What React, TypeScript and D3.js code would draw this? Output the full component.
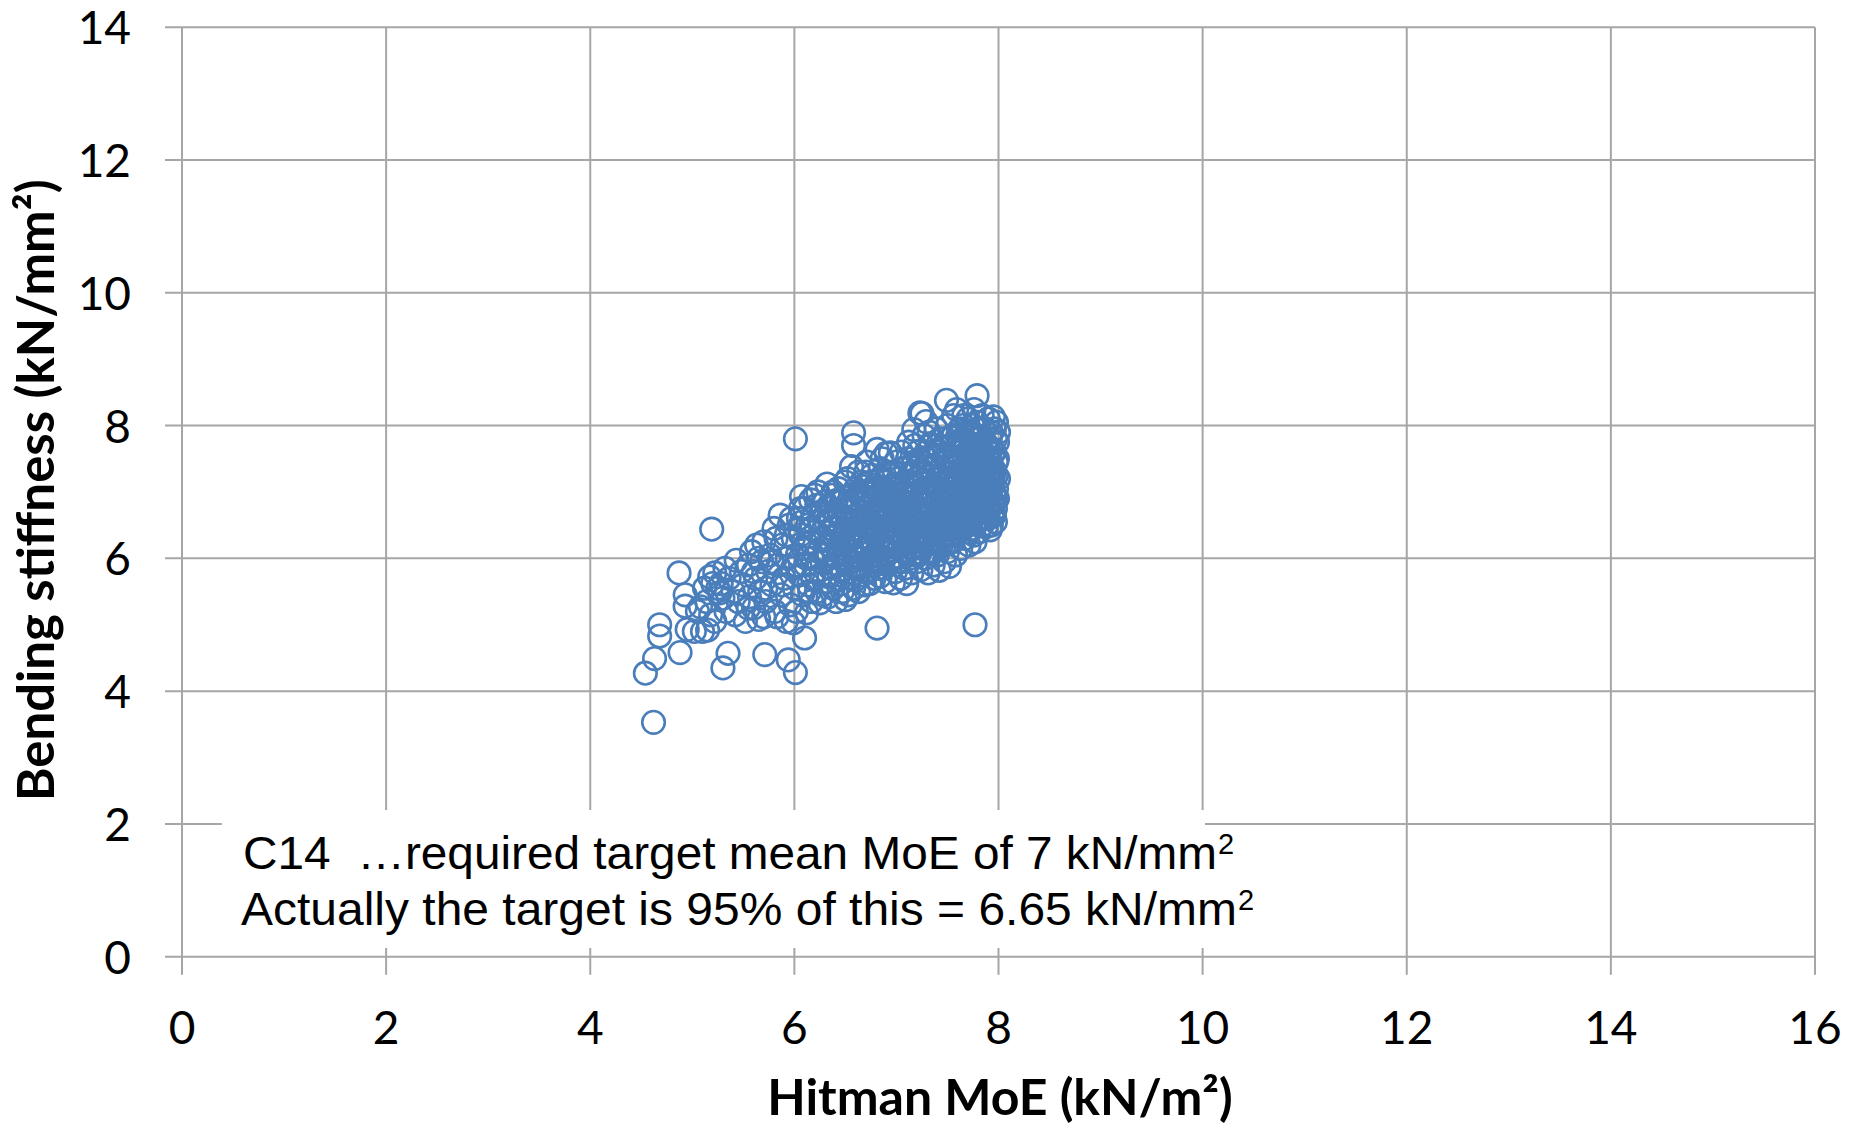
import { useEffect, useRef } from "react";
import * as d3 from "d3";

// Axis ticks
const xTicks = [0, 2, 4, 6, 8, 10, 12, 14, 16];
const yTicks = [0, 2, 4, 6, 8, 10, 12, 14];

// Isolated points: [Hitman MoE, bending stiffness]
const sparsePoints: [number, number][] = [
  [4.62, 3.53], [4.54, 4.27], [4.63, 4.49], [4.68, 4.83], [4.68, 5.0], [4.87, 5.78],
  [4.93, 5.45], [4.93, 5.28], [4.88, 4.58], [4.95, 4.93], [5.02, 4.9], [5.1, 4.9],
  [5.15, 4.92], [5.08, 5.27], [5.17, 5.72], [5.19, 6.44], [5.3, 4.35], [5.35, 4.57],
  [5.71, 4.55], [5.94, 4.47], [6.01, 4.28], [5.99, 5.03], [6.1, 4.8], [6.01, 7.8],
  [6.81, 4.95], [7.77, 5.0], [6.58, 7.89], [6.58, 7.7], [7.25, 8.18], [7.49, 8.38],
  [7.79, 8.45],
];

// Lower part of the cloud (x 5.0 - 6.0)
const lowerCloud: [number, number][] = [
  [5.12, 5.55], [5.2, 5.62], [5.14, 5.35], [5.05, 5.2], [5.22, 5.78], [5.27, 5.48],
  [5.32, 5.85], [5.18, 5.15], [5.22, 5.05], [5.25, 5.55], [5.28, 5.62], [5.3, 5.4],
  [5.33, 5.2], [5.36, 5.7], [5.4, 5.5], [5.43, 5.97], [5.42, 5.15], [5.45, 5.35],
  [5.48, 5.8], [5.5, 5.6], [5.52, 5.05], [5.55, 5.9], [5.56, 5.42], [5.58, 6.1],
  [5.6, 5.25], [5.62, 5.7], [5.63, 6.2], [5.65, 5.08], [5.66, 5.5], [5.68, 5.95],
  [5.7, 5.12], [5.7, 6.25], [5.72, 5.35], [5.74, 5.8], [5.76, 6.05], [5.78, 5.6],
  [5.8, 6.45], [5.81, 5.2], [5.83, 5.12], [5.84, 5.9], [5.86, 6.65], [5.87, 5.45],
  [5.88, 6.2], [5.9, 5.7], [5.92, 5.05], [5.93, 6.0], [5.95, 6.5], [5.96, 5.3],
  [5.98, 5.85], [5.99, 6.3], [6.0, 5.55], [5.55, 5.25], [5.6, 5.8], [5.65, 6.0],
  [5.72, 5.55], [5.78, 5.95], [5.82, 6.3], [5.88, 5.6], [5.92, 6.35], [5.97, 6.6],
];

// Middle of the cloud (x 6.0 - 7.0)
const middleCloud: [number, number][] = [
  [6.02, 5.2], [6.03, 6.05], [6.04, 6.6], [6.05, 5.75], [6.06, 6.35], [6.07, 6.93],
  [6.08, 5.45], [6.09, 6.15], [6.1, 6.75], [6.11, 5.9], [6.12, 5.18], [6.13, 6.5],
  [6.14, 5.6], [6.15, 6.25], [6.16, 6.88], [6.17, 5.35], [6.18, 6.0], [6.19, 6.62],
  [6.2, 5.8], [6.21, 6.4], [6.22, 5.5], [6.23, 7.0], [6.24, 6.1], [6.25, 5.33],
  [6.26, 6.7], [6.27, 5.95], [6.28, 6.3], [6.29, 5.65], [6.3, 6.85], [6.31, 6.55],
  [6.32, 7.12], [6.33, 5.42], [6.34, 6.2], [6.35, 5.85], [6.36, 6.45], [6.37, 6.95],
  [6.38, 5.55], [6.39, 6.05], [6.4, 6.7], [6.41, 5.35], [6.42, 6.35], [6.43, 7.05],
  [6.44, 5.75], [6.45, 6.15], [6.46, 6.85], [6.47, 5.5], [6.48, 6.55], [6.49, 6.0],
  [6.5, 7.15], [6.5, 5.38], [6.05, 6.45], [6.15, 5.5], [6.25, 6.55], [6.35, 6.65],
  [6.45, 6.4], [6.12, 6.22], [6.22, 6.8], [6.32, 5.98], [6.42, 5.9], [6.28, 5.45],
  [6.38, 7.0], [6.46, 5.62], [6.18, 5.7], [6.08, 6.55], [6.36, 6.25], [6.02, 5.9],
  [6.06, 6.75], [6.12, 6.0], [6.17, 6.45], [6.2, 6.95], [6.26, 5.75], [6.3, 6.05],
  [6.51, 5.9], [6.52, 6.6], [6.52, 7.2], [6.53, 5.45], [6.54, 6.3], [6.55, 6.95],
  [6.55, 5.7], [6.56, 7.38], [6.57, 6.1], [6.58, 6.75], [6.58, 5.55], [6.59, 6.45],
  [6.6, 7.05], [6.61, 5.85], [6.61, 6.25], [6.62, 6.85], [6.63, 5.5], [6.63, 7.3],
  [6.64, 6.55], [6.65, 6.0], [6.66, 6.7], [6.66, 7.15], [6.67, 5.75], [6.68, 6.4],
  [6.69, 6.9], [6.69, 5.6], [6.7, 6.15], [6.71, 7.45], [6.72, 6.6], [6.72, 5.82],
  [6.73, 7.0], [6.74, 6.3], [6.75, 5.95], [6.75, 6.8], [6.76, 7.25], [6.77, 6.5],
  [6.78, 5.7], [6.78, 6.05], [6.79, 7.1], [6.8, 6.65], [6.81, 7.64], [6.81, 6.35],
  [6.82, 5.85], [6.83, 6.95], [6.84, 5.73], [6.84, 7.35], [6.85, 6.2], [6.86, 6.75],
  [6.87, 6.0], [6.88, 7.15], [6.88, 6.45], [6.89, 5.65], [6.9, 6.9], [6.9, 7.58],
  [6.91, 6.3], [6.92, 5.9], [6.93, 6.6], [6.94, 7.25], [6.94, 7.59], [6.95, 6.1],
  [6.96, 6.85], [6.97, 5.63], [6.97, 6.4], [6.98, 7.05], [6.99, 5.8], [7.0, 6.7],
  [7.0, 7.45], [6.53, 6.85], [6.57, 6.38], [6.62, 6.18], [6.67, 6.95], [6.71, 6.45],
  [6.74, 5.62], [6.77, 7.0], [6.82, 6.55], [6.86, 7.5], [6.89, 6.15], [6.93, 6.95],
  [6.96, 6.25], [6.99, 6.55], [6.6, 5.68], [6.7, 7.3], [6.8, 5.98], [6.9, 6.5],
  [6.98, 7.3],
];

// Upper part of the cloud (x 7.0 - 8.0)
const upperCloud: [number, number][] = [
  [7.01, 5.95], [7.02, 6.35], [7.02, 7.2], [7.03, 6.8], [7.04, 5.7], [7.05, 6.55],
  [7.05, 7.6], [7.06, 6.1], [7.07, 7.0], [7.08, 6.45], [7.08, 5.85], [7.09, 7.35],
  [7.1, 5.62], [7.1, 6.7], [7.11, 6.25], [7.12, 7.75], [7.12, 6.9], [7.13, 6.0],
  [7.14, 7.15], [7.14, 6.5], [7.15, 5.78], [7.16, 6.85], [7.17, 7.94], [7.17, 7.45],
  [7.18, 6.3], [7.19, 6.65], [7.2, 5.95], [7.2, 7.1], [7.21, 7.6], [7.22, 6.4],
  [7.23, 8.19], [7.23, 6.85], [7.24, 5.83], [7.25, 7.3], [7.25, 6.15], [7.26, 6.6],
  [7.27, 7.85], [7.28, 6.95], [7.28, 6.0], [7.29, 8.06], [7.3, 6.45], [7.3, 7.5],
  [7.31, 5.78], [7.32, 6.75], [7.33, 7.15], [7.33, 6.25], [7.34, 7.7], [7.35, 6.55],
  [7.36, 5.9], [7.36, 7.0], [7.37, 7.4], [7.38, 6.35], [7.39, 7.95], [7.4, 6.8],
  [7.4, 6.05], [7.41, 7.25], [7.42, 5.82], [7.42, 6.6], [7.43, 7.6], [7.44, 6.2],
  [7.45, 6.95], [7.45, 7.8], [7.46, 6.45], [7.47, 5.95], [7.48, 7.15], [7.48, 6.7],
  [7.49, 7.45], [7.5, 6.1], [7.5, 8.0], [7.03, 6.2], [7.07, 6.6], [7.11, 7.5],
  [7.15, 6.15], [7.19, 7.3], [7.22, 6.7], [7.26, 7.05], [7.29, 6.3], [7.32, 7.9],
  [7.35, 6.9], [7.38, 6.65], [7.41, 7.55], [7.44, 6.85], [7.47, 7.3], [7.06, 6.95],
  [7.13, 6.4], [7.18, 7.7], [7.24, 6.5], [7.31, 7.25], [7.37, 6.1], [7.43, 7.05],
  [7.46, 6.35], [7.49, 6.85],
  [7.51, 6.55], [7.52, 7.3], [7.52, 5.88], [7.53, 6.95], [7.54, 7.7], [7.55, 6.25],
  [7.55, 7.1], [7.56, 8.15], [7.57, 6.6], [7.57, 7.5], [7.58, 6.05], [7.59, 6.85],
  [7.59, 8.24], [7.6, 7.25], [7.61, 6.4], [7.61, 7.85], [7.62, 6.7], [7.63, 7.05],
  [7.63, 6.15], [7.64, 7.6], [7.65, 6.5], [7.65, 8.0], [7.66, 6.9], [7.67, 7.35],
  [7.67, 6.3], [7.68, 7.75], [7.69, 6.65], [7.7, 7.15], [7.7, 8.1], [7.71, 6.2],
  [7.72, 6.95], [7.72, 7.5], [7.73, 6.45], [7.74, 7.9], [7.75, 6.8], [7.75, 7.3],
  [7.76, 8.24], [7.76, 6.35], [7.77, 7.05], [7.78, 7.65], [7.78, 6.55], [7.79, 8.05],
  [7.8, 6.95], [7.8, 7.4], [7.81, 6.4], [7.82, 7.8], [7.82, 6.75], [7.83, 7.2],
  [7.84, 8.15], [7.84, 6.5], [7.85, 7.55], [7.86, 6.9], [7.86, 7.95], [7.87, 6.6],
  [7.88, 7.35], [7.88, 6.48], [7.89, 7.7], [7.9, 7.05], [7.9, 8.1], [7.91, 6.8],
  [7.92, 7.45], [7.92, 6.43], [7.93, 7.9], [7.93, 7.15], [7.94, 6.65], [7.95, 8.13],
  [7.95, 7.6], [7.96, 6.95], [7.96, 7.3], [7.97, 6.55], [7.97, 7.8], [7.98, 7.05],
  [7.98, 8.05], [7.98, 7.45], [7.97, 6.75], [7.96, 7.95], [7.95, 6.85], [7.94, 7.25],
  [7.53, 6.35], [7.56, 7.85], [7.6, 6.5], [7.62, 7.45], [7.64, 6.95], [7.66, 8.15],
  [7.68, 7.0], [7.7, 6.6], [7.73, 7.7], [7.77, 6.25], [7.79, 7.25], [7.81, 7.05],
  [7.83, 6.6], [7.85, 7.95], [7.87, 7.15], [7.89, 6.7], [7.91, 7.6], [7.54, 6.75],
  [7.58, 7.2], [7.62, 7.95], [7.66, 6.75], [7.69, 7.55], [7.72, 6.4], [7.74, 7.1],
  [7.78, 6.85], [7.8, 7.7], [7.84, 7.0], [7.86, 7.4], [7.88, 6.95], [7.91, 7.25],
  [7.93, 6.5], [7.57, 6.45], [7.61, 7.0], [7.65, 7.8], [7.7, 6.95], [7.75, 8.0],
  [7.8, 6.55], [7.85, 7.3], [7.9, 6.6], [7.95, 7.35], [7.99, 7.75], [7.99, 6.9],
  [8.0, 7.9], [8.0, 7.2],
];

// Dense core of the cloud, where the rings merge into a solid patch
const coreCloud: [number, number][] = [
  [6.31, 6.12], [6.33, 6.78], [6.34, 5.72], [6.36, 6.58], [6.37, 6.33], [6.39, 5.92],
  [6.4, 6.48], [6.41, 6.87], [6.43, 6.1], [6.44, 6.62], [6.46, 5.82], [6.47, 6.28],
  [6.48, 6.92], [6.5, 6.45], [6.51, 6.05], [6.52, 6.72], [6.54, 5.95], [6.55, 6.5],
  [6.56, 6.2], [6.57, 6.88], [6.59, 5.78], [6.6, 6.35], [6.61, 6.65], [6.62, 6.02],
  [6.64, 6.95], [6.65, 6.25], [6.66, 5.88], [6.67, 6.58], [6.68, 7.08], [6.7, 6.3],
  [6.71, 6.78], [6.72, 6.08], [6.73, 5.95], [6.74, 6.52], [6.75, 7.15], [6.76, 6.22],
  [6.77, 6.7], [6.78, 6.4], [6.79, 5.9], [6.8, 6.88], [6.81, 7.05], [6.82, 6.15],
  [6.83, 6.45], [6.84, 6.62], [6.85, 7.22], [6.86, 5.95], [6.87, 6.35], [6.88, 6.8],
  [6.89, 7.02], [6.9, 6.08], [6.91, 6.68], [6.92, 7.3], [6.93, 6.25], [6.94, 6.48],
  [6.95, 5.98], [6.96, 7.1], [6.97, 6.75], [6.98, 6.18], [6.99, 6.9], [7.0, 6.38],
  [7.01, 7.12], [7.02, 6.58], [7.03, 6.02], [7.04, 6.88], [7.05, 7.35], [7.06, 6.28],
  [7.07, 6.72], [7.08, 7.08], [7.09, 6.12], [7.1, 6.55], [7.11, 6.95], [7.12, 6.35],
  [7.13, 7.25], [7.14, 6.78], [7.15, 6.05], [7.16, 7.4], [7.17, 6.6], [7.18, 6.95],
  [7.19, 6.2], [7.2, 6.75], [7.21, 7.2], [7.22, 6.05], [7.23, 6.55], [7.24, 7.45],
  [7.25, 6.88], [7.26, 6.3], [7.27, 7.15], [7.28, 6.65], [7.29, 7.6], [7.3, 6.2],
  [7.31, 6.95], [7.32, 6.45], [7.33, 7.35], [7.34, 6.1], [7.35, 7.55], [7.36, 6.75],
  [7.37, 6.3], [7.38, 7.1], [7.39, 6.55], [7.4, 7.7], [7.41, 6.25], [7.42, 6.98],
  [7.43, 6.4], [7.44, 7.35], [7.45, 6.62], [7.46, 7.68], [7.47, 6.2], [7.48, 7.0],
  [7.49, 6.48], [7.5, 7.55], [7.51, 6.85], [7.52, 6.25], [7.53, 7.4], [7.54, 6.6],
  [7.55, 7.85], [7.56, 6.95], [7.57, 6.35], [7.58, 7.6], [7.59, 6.7], [7.6, 7.12],
  [7.61, 6.55], [7.62, 7.75], [7.63, 6.82], [7.64, 7.3], [7.65, 6.65], [7.66, 7.55],
  [7.67, 7.0], [7.68, 6.48], [7.69, 7.9], [7.7, 6.8], [7.71, 7.3], [7.72, 6.6],
  [7.73, 7.05], [7.74, 7.5], [7.75, 6.65], [7.76, 7.15], [7.77, 7.85], [7.78, 6.95],
  [7.79, 7.5], [7.8, 6.7], [7.81, 7.2], [7.82, 7.6], [7.83, 6.85], [7.84, 7.35],
  [7.85, 6.7], [7.86, 7.1], [7.87, 7.75], [7.88, 6.8], [7.89, 7.25], [7.9, 6.95],
  [7.91, 7.5], [7.92, 7.0], [7.93, 7.65], [7.94, 6.8], [7.95, 7.15], [7.96, 7.6],
  [7.97, 6.9], [7.98, 7.25], [7.99, 7.5], [7.96, 6.65], [7.92, 7.8], [7.88, 7.55],
  [7.84, 6.8], [7.8, 7.95], [7.76, 6.85], [7.72, 7.85], [7.68, 7.2], [7.64, 6.6],
  [7.6, 7.7], [7.56, 6.55], [7.52, 7.05], [7.48, 7.5], [7.44, 7.2], [7.4, 6.6],
];

const allPoints = [...sparsePoints, ...lowerCloud, ...middleCloud, ...upperCloud, ...coreCloud];

const note1 = "C14  \u2026required target mean MoE of 7 kN/mm";
const note2 = "Actually the target is 95% of this = 6.65 kN/mm";

export default function App() {
  const svgRef = useRef<SVGSVGElement | null>(null);

  useEffect(() => {
    if (!svgRef.current) return;
    const svg = d3.select(svgRef.current);
    svg.selectAll("*").remove();

    const x = d3.scaleLinear().domain([0, 16]).range([182, 1815]);
    const y = d3.scaleLinear().domain([0, 14]).range([956.7, 27.2]);
    const grid = "#a6a6a6";

    svg.append("rect").attr("width", 1854).attr("height", 1129).attr("fill", "#fff");

    // grid lines (they also act as the axis lines and tick marks)
    svg
      .append("g")
      .selectAll("line")
      .data(xTicks)
      .enter()
      .append("line")
      .attr("x1", (d) => x(d))
      .attr("x2", (d) => x(d))
      .attr("y1", y(14))
      .attr("y2", y(0) + 18)
      .attr("stroke", grid)
      .attr("stroke-width", 2);
    svg
      .append("g")
      .selectAll("line")
      .data(yTicks)
      .enter()
      .append("line")
      .attr("x1", x(0) - 17)
      .attr("x2", x(16))
      .attr("y1", (d) => y(d))
      .attr("y2", (d) => y(d))
      .attr("stroke", grid)
      .attr("stroke-width", 2);

    // tick labels
    svg
      .append("g")
      .selectAll("text")
      .data(xTicks)
      .enter()
      .append("text")
      .attr("x", (d) => x(d))
      .attr("y", 1044)
      .attr("text-anchor", "middle")
      .attr("font-family", "Lato")
      .attr("font-size", 46)
      .attr("fill", "#000")
      .text((d) => d);
    svg
      .append("g")
      .selectAll("text")
      .data(yTicks)
      .enter()
      .append("text")
      .attr("x", 131)
      .attr("y", (d) => y(d) + 17)
      .attr("text-anchor", "end")
      .attr("font-family", "Lato")
      .attr("font-size", 46)
      .attr("fill", "#000")
      .text((d) => d);

    // note box covers the grid
    svg
      .append("rect")
      .attr("x", 222)
      .attr("y", 810)
      .attr("width", 983)
      .attr("height", 138)
      .attr("fill", "#fff");

    const note = svg.append("g").attr("font-family", "'Liberation Sans', Arial").attr("fill", "#000");
    [
      { t: note1, y: 869, len: 974, x0: 243 },
      { t: note2, y: 925, len: 996, x0: 241 },
    ].forEach((l) => {
      note
        .append("text")
        .attr("x", l.x0)
        .attr("y", l.y)
        .attr("font-size", 47)
        .attr("textLength", l.len)
        .attr("lengthAdjust", "spacingAndGlyphs")
        .style("white-space", "pre")
        .text(l.t);
      note
        .append("text")
        .attr("x", l.x0 + l.len + 1)
        .attr("y", l.y - 15)
        .attr("font-size", 29)
        .text("2");
    });

    // points
    svg
      .append("g")
      .selectAll("circle")
      .data(allPoints)
      .enter()
      .append("circle")
      .attr("cx", (d) => x(d[0]))
      .attr("cy", (d) => y(d[1]))
      .attr("r", 11.3)
      .attr("fill", "none")
      .attr("stroke", "#4a7ebb")
      .attr("stroke-width", 2.6);

    // axis titles
    svg
      .append("text")
      .attr("x", 1000)
      .attr("y", 1115)
      .attr("text-anchor", "middle")
      .attr("font-family", "Lato")
      .attr("font-weight", "bold")
      .attr("font-size", 50)
      .attr("fill", "#000")
      .text("Hitman MoE (kN/m\u00b2)");
    svg
      .append("text")
      .attr("transform", "translate(54,490) rotate(-90)")
      .attr("text-anchor", "middle")
      .attr("font-family", "Lato")
      .attr("font-weight", "bold")
      .attr("font-size", 51)
      .attr("fill", "#000")
      .text("Bending stiffness (kN/mm\u00b2)");
  }, []);

  return (
    <svg
      ref={svgRef}
      width={1854}
      height={1129}
      style={{ position: "absolute", left: 0, top: 0, display: "block" }}
    />
  );
}
